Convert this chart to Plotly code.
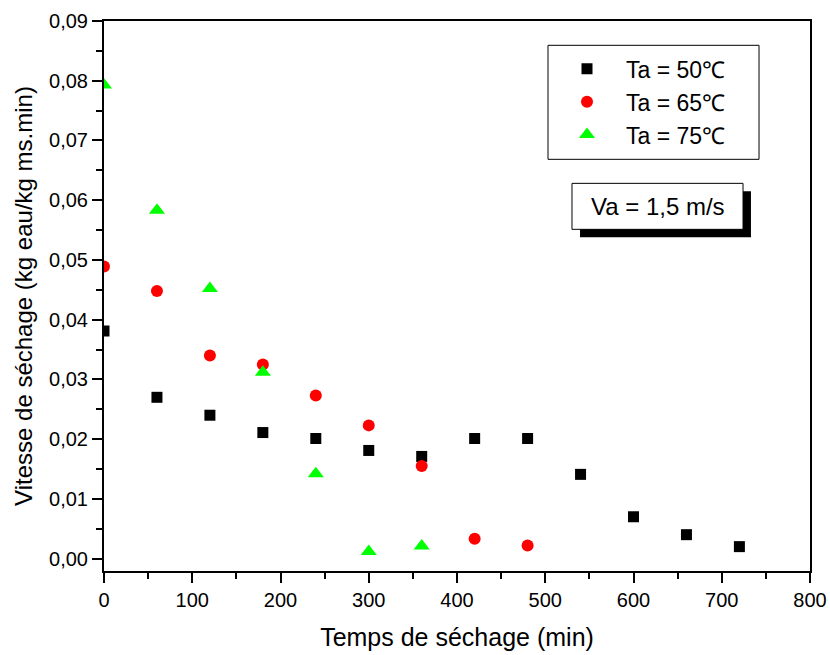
import plotly.graph_objects as go

# Data
t50 = [0, 60, 120, 180, 240, 300, 360, 420, 480, 540, 600, 660, 720]
v50 = [0.0381, 0.0270, 0.0240, 0.0211, 0.0201, 0.0181, 0.0171, 0.0201, 0.0201, 0.0141, 0.0070, 0.0040, 0.0020]

t65 = [0, 60, 120, 180, 240, 300, 360, 420, 480]
v65 = [0.0489, 0.0448, 0.0340, 0.0325, 0.0273, 0.0223, 0.0155, 0.0033, 0.0022]

t75 = [0, 60, 120, 180, 240, 300, 360]
v75 = [0.0793, 0.0583, 0.0452, 0.0312, 0.0142, 0.0012, 0.0021]

names = ["Ta = 50\u2103", "Ta = 65\u2103", "Ta = 75\u2103"]
colors = ["#000000", "#FF0000", "#00FF00"]
symbols = ["square", "circle", "triangle-up"]
sizes = [11, 12, 14]

FONT = "Liberation Sans, Arial, sans-serif"

fig = go.Figure()
for t, v, n, c, s, sz in zip([t50, t65, t75], [v50, v65, v75], names, colors, symbols, sizes):
    fig.add_trace(go.Scatter(x=t, y=v, mode="markers", name=n,
                             marker=dict(symbol=s, color=c, size=sz, line=dict(width=0))))

# Legend frame
fig.add_shape(type="rect", xref="paper", yref="paper", x0=0.6289, x1=0.9278, y0=0.7485, y1=0.9558,
              fillcolor="rgba(0,0,0,0)", line=dict(color="black", width=1), layer="above")

# "Va" box with drop shadow
fig.add_shape(type="rect", xref="x", yref="y", x0=539.4, x1=733.1, y0=0.05378, y1=0.06148,
              fillcolor="black", line=dict(width=0), layer="above")
fig.add_shape(type="rect", xref="x", yref="y", x0=530.3, x1=724.1, y0=0.05512, y1=0.06282,
              fillcolor="white", line=dict(color="black", width=1), layer="above")
fig.add_annotation(x=627.2, y=0.05897, xref="x", yref="y", text="Va = 1,5 m/s", showarrow=False,
                   font=dict(family=FONT, size=24, color="black"))

fig.update_layout(
    width=830, height=655,
    margin=dict(l=104, r=20, t=21, b=84, autoexpand=False),
    paper_bgcolor="white", plot_bgcolor="white",
    separators=",.",
    font=dict(family=FONT, color="black"),
    showlegend=True,
    legend=dict(x=0.6289, y=0.9522, xanchor="left", yanchor="top",
                borderwidth=0, bgcolor="rgba(0,0,0,0)",
                font=dict(family=FONT, size=23, color="black"),
                itemwidth=68, tracegroupgap=0),
)

fig.update_xaxes(range=[0, 800], dtick=100, tick0=0, showgrid=False, zeroline=False, automargin=False,
                 showline=True, linecolor="black", linewidth=2, mirror=True,
                 ticks="outside", ticklen=10, tickwidth=2, tickcolor="black",
                 minor=dict(ticks="outside", ticklen=6, tickwidth=2, dtick=50, tick0=0, tickcolor="black"),
                 tickfont=dict(family=FONT, size=20, color="black"),
                 title=dict(text="Temps de séchage (min)", font=dict(family=FONT, size=25, color="black"), standoff=18))
fig.update_yaxes(range=[-0.00208, 0.09], dtick=0.01, tick0=0, tickformat=".2f", showgrid=False, zeroline=False,
                 automargin=False,
                 showline=True, linecolor="black", linewidth=2, mirror=True,
                 ticks="outside", ticklen=10, tickwidth=2, tickcolor="black",
                 minor=dict(ticks="outside", ticklen=6, tickwidth=2, dtick=0.005, tick0=0, tickcolor="black"),
                 tickfont=dict(family=FONT, size=20, color="black"),
                 title=dict(text="Vitesse de séchage (kg eau/kg ms.min)", font=dict(family=FONT, size=24, color="black"), standoff=10))

fig.write_html("out.html")
